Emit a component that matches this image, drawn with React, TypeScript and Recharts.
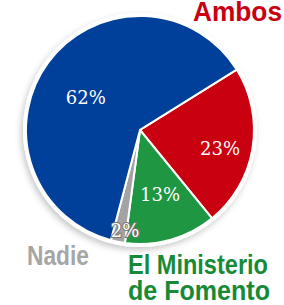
import React from 'react';
import { PieChart, Pie, Cell } from 'recharts';

// Respuestas (porcentaje), en el orden en que se dibujan las porciones
const categories = ['Ambos', 'El Ministerio de Fomento', 'Nadie', 'El Ayuntamiento'];
const shares = [23, 13, 2, 62];
const percentLabels = ['23%', '13%', '2%', '62%'];

const sliceColors = ['#c9000f', '#1f9641', '#a3a3a3', '#00409a'];
// ajuste fino de la posición de cada etiqueta: [radio, desplazamiento de ángulo]
const labelTweak = [
  [82, -3.3],
  [68, 1.3],
  [102, 2.8],
  [63, 5.7],
];

const data = categories.map((name, i) => ({ name, value: shares[i], label: percentLabels[i] }));
const total = [{ name: 'total', value: shares.reduce((a, b) => a + b, 0) }];

const CX = 140;
const CY = 130;
const RADIAN = Math.PI / 180;

const renderLabel = (props: any) => {
  const { cx, cy, midAngle, index } = props;
  const [r, off] = labelTweak[index];
  const a = (midAngle + off) * RADIAN;
  const x = cx + r * Math.cos(a);
  const y = cy - r * Math.sin(a);
  const isSmall = index === 2;
  return (
    <text
      x={x}
      y={y}
      textAnchor="middle"
      dominantBaseline="central"
      fill="#ffffff"
      stroke={isSmall ? '#777777' : 'none'}
      strokeWidth={isSmall ? 2 : 0}
      paintOrder="stroke"
      fontFamily="'DejaVu Serif', serif"
      fontSize={18}
    >
      {data[index].label}
    </text>
  );
};

const nameStyle = {
  fontFamily: "'Liberation Sans', Arial, sans-serif",
  fontWeight: 700,
  fontSize: 27,
};

const App = () => {
  return (
    <div style={{ position: 'absolute', left: 0, top: 0, width: 284, height: 305, background: '#ffffff' }}>
      <PieChart width={284} height={305} margin={{ top: 0, right: 0, bottom: 0, left: 0 }}>
        <defs>
          <filter id="pieShadow" x="-20%" y="-20%" width="140%" height="140%">
            <feDropShadow dx={-2} dy={3} stdDeviation={3} floodColor="#000000" floodOpacity={0.22} />
          </filter>
        </defs>
        <Pie
          data={total}
          dataKey="value"
          cx={CX}
          cy={CY}
          outerRadius={117}
          fill="#ffffff"
          stroke="none"
          style={{ filter: 'url(#pieShadow)' }}
          isAnimationActive={false}
        />
        <Pie
          data={data}
          dataKey="value"
          cx={CX}
          cy={CY}
          outerRadius={114}
          startAngle={32}
          endAngle={-328}
          stroke="#ffffff"
          strokeWidth={2}
          label={renderLabel}
          labelLine={false}
          isAnimationActive={false}
        >
          {data.map((d, i) => (
            <Cell key={d.name} fill={sliceColors[i]} />
          ))}
        </Pie>
        <text x={193} y={21} fill="#c8000f" style={nameStyle} textLength={89} lengthAdjust="spacingAndGlyphs">
          {categories[0]}
        </text>
        <text x={27} y={265} fill="#a6a6a6" style={nameStyle} textLength={62} lengthAdjust="spacingAndGlyphs">
          {categories[2]}
        </text>
        <text x={128} y={274} fill="#178a37" style={nameStyle} textLength={140} lengthAdjust="spacingAndGlyphs">
          El Ministerio
        </text>
        <text x={128} y={300} fill="#178a37" style={nameStyle} textLength={142} lengthAdjust="spacingAndGlyphs">
          de Fomento
        </text>
      </PieChart>
    </div>
  );
};

export default App;
